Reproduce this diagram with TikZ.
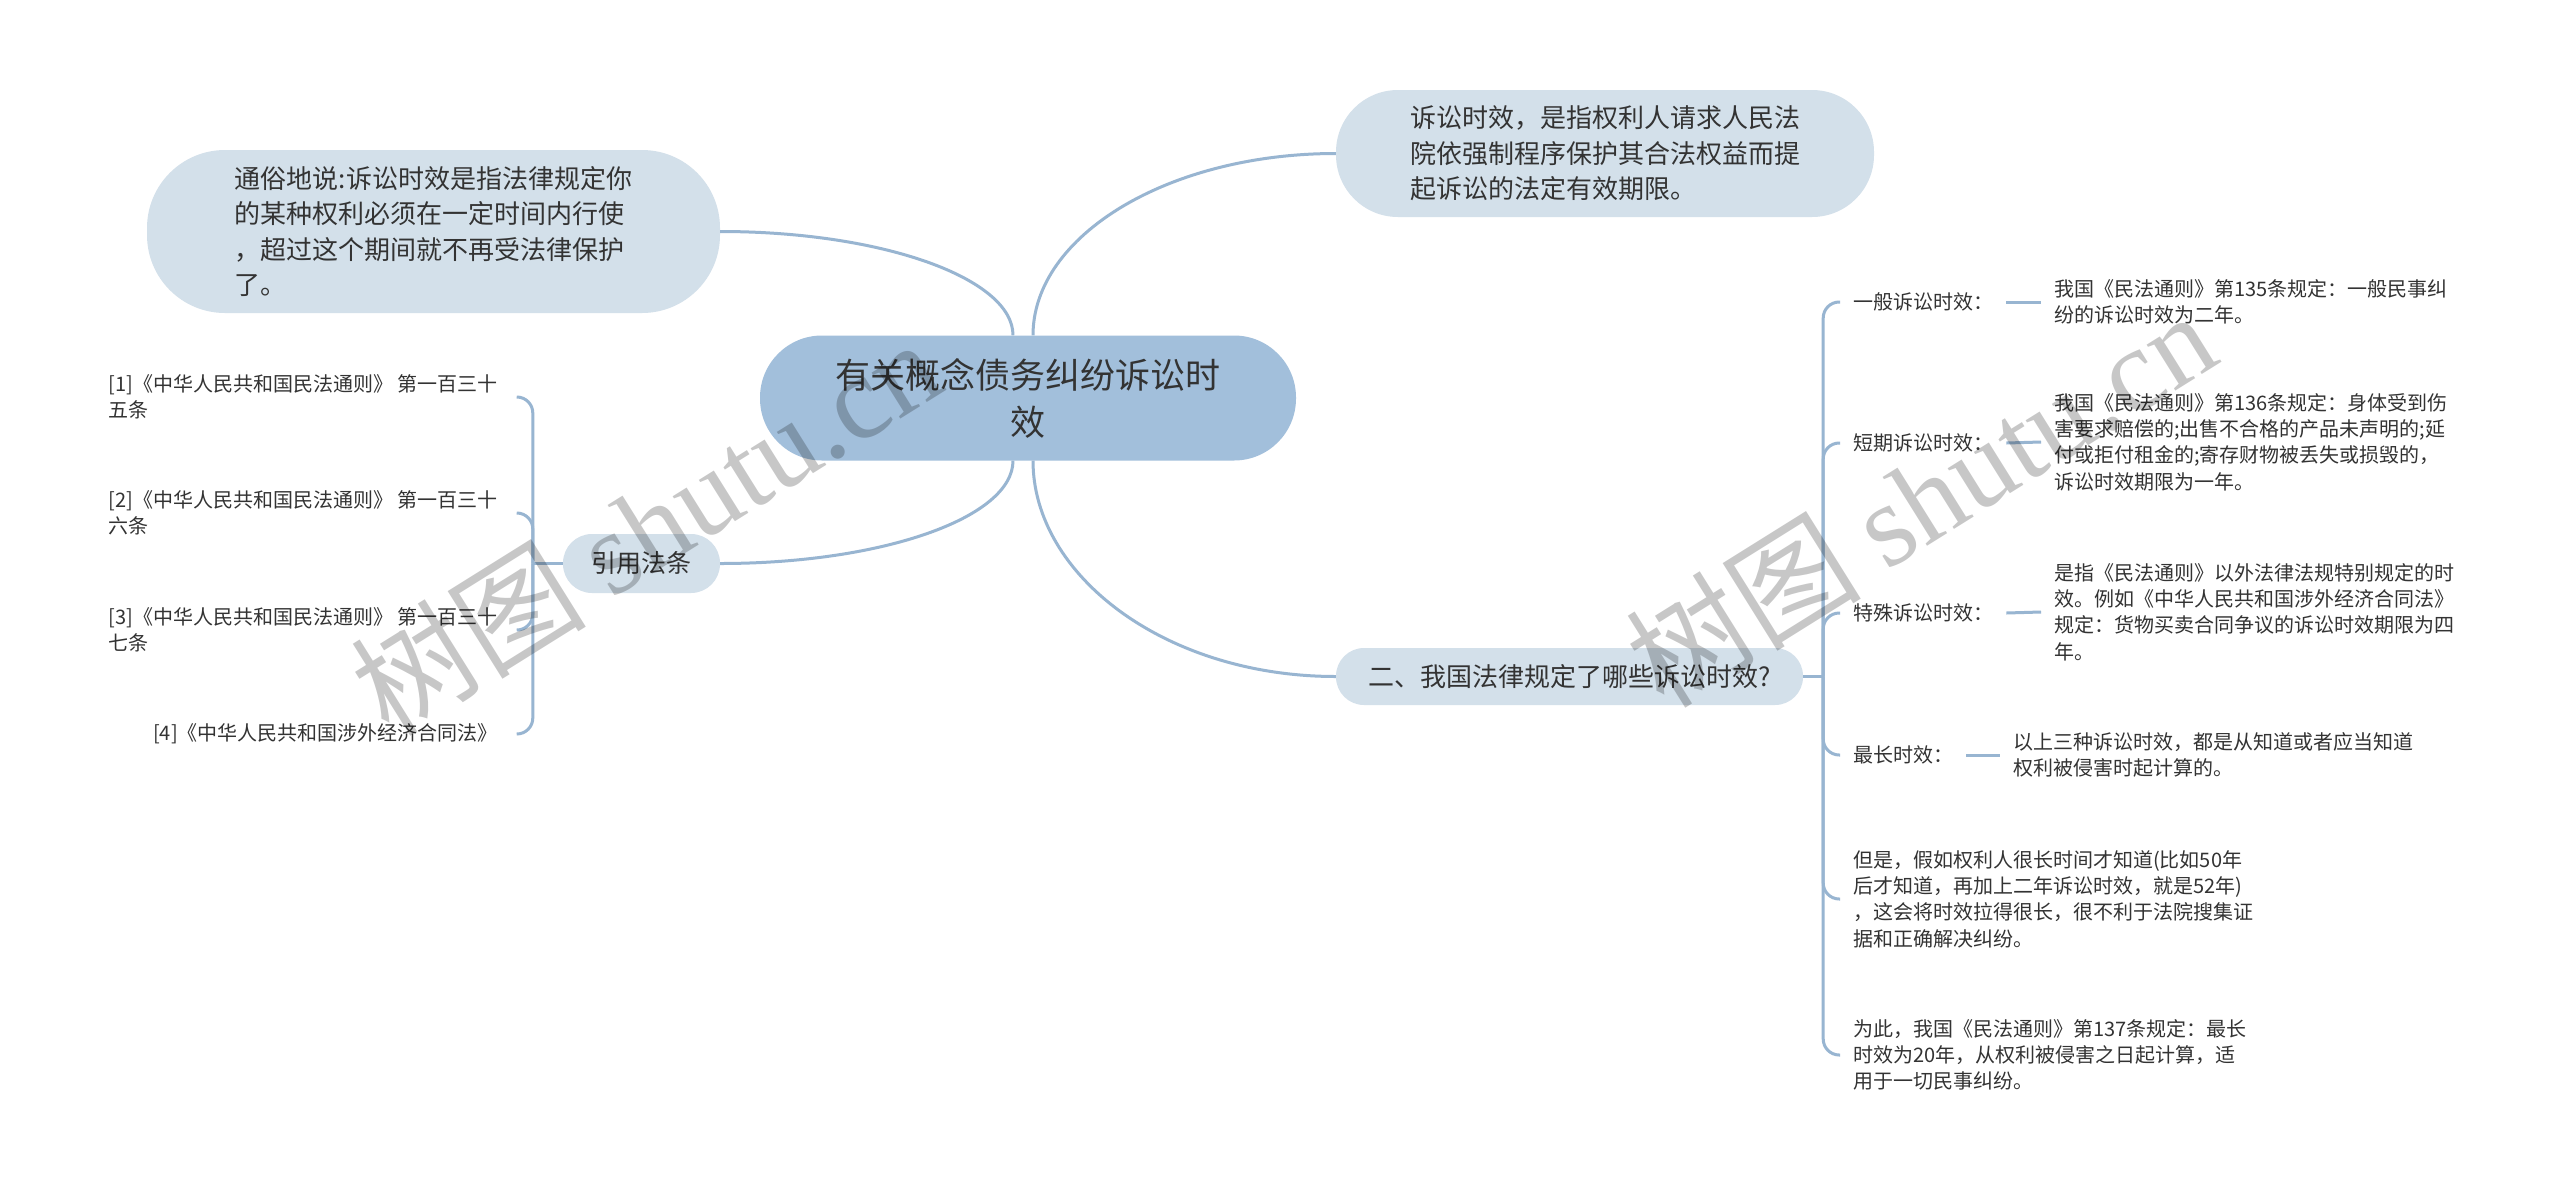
\documentclass[tikz,border=0pt]{standalone}
\usepackage{fontspec}
\setmainfont{Noto Sans CJK SC}
\newfontfamily\wmserif{Liberation Serif}
\usetikzlibrary{calc}
\definecolor{cfill}{HTML}{A2BFDB}
\definecolor{sfill}{HTML}{D3E0EA}
\definecolor{lnk}{HTML}{98B5D1}
\definecolor{txt}{HTML}{333333}
\begin{document}
\begin{tikzpicture}[x=1pt,y=-1pt,
  conn/.style={draw=lnk, line width=3pt},
  mainnode/.style={fill=cfill, rounded corners=62pt, minimum width=536pt, minimum height=125pt,
    align=center, text=txt, font=\fontsize{35}{47}\selectfont, inner sep=0pt},
  subnode/.style={fill=sfill, align=left, text=txt, inner sep=0pt},
  bigtext/.style={font=\fontsize{26}{35.5}\selectfont},
  leaf/.style={text=txt, align=left, font=\fontsize{20}{26.3}\selectfont, inner xsep=13pt, inner ysep=2pt},
  refleaf/.style={leaf, inner xsep=19pt, anchor=east},
  wm/.style={text=black, text opacity=0.22, font=\fontsize{118}{118}\selectfont, inner sep=0pt}
]
\fill[white] (0,0) rectangle (2560,1192);
\useasboundingbox (0,0) rectangle (2560,1192);

% main and secondary nodes
\node[mainnode] (c) at (1028,398) {有关概念债务纠纷诉讼时\\效};
\node[subnode, bigtext, minimum width=573pt, minimum height=163pt, rounded corners=78pt] (tl) at (433.5,231.5)
  {通俗地说:诉讼时效是指法律规定你\\的某种权利必须在一定时间内行使\\，超过这个期间就不再受法律保护\\了。};
\node[subnode, bigtext, minimum width=538pt, minimum height=127pt, rounded corners=62pt] (tr) at (1605,153.5)
  {诉讼时效，是指权利人请求人民法\\院依强制程序保护其合法权益而提\\起诉讼的法定有效期限。};
\node[subnode, font=\fontsize{25}{30}\selectfont, minimum width=157pt, minimum height=59pt, rounded corners=29pt, align=center] (yl) at (641.5,563.5) {引用法条};
\node[subnode, bigtext, minimum width=467pt, minimum height=57pt, rounded corners=28pt, align=center] (er) at (1569.5,676.5) {二、我国法律规定了哪些诉讼时效?};

% connectors from the centre
\draw[conn] ([xshift=-15pt]c.north) .. controls +(0,-57) and +(162,0) .. (tl.east);
\draw[conn] ([xshift=5pt]c.north) .. controls +(0,-100) and +(-167,0) .. (tr.west);
\draw[conn] ([xshift=-15pt]c.south) .. controls +(0,57) and +(162,0) .. (yl.east);
\draw[conn] ([xshift=5pt]c.south) .. controls +(0,115) and +(-170,0) .. (er.west);

% left references
\node[refleaf] (r1) at (517,397) {[1]《中华人民共和国民法通则》 第一百三十\\五条};
\node[refleaf] (r2) at (517,513) {[2]《中华人民共和国民法通则》 第一百三十\\六条};
\node[refleaf] (r3) at (517,630) {[3]《中华人民共和国民法通则》 第一百三十\\七条};
\node[refleaf] (r4) at (517,734) {[4]《中华人民共和国涉外经济合同法》};
\coordinate (jl) at ([xshift=-30pt]yl.west);
\draw[conn] (yl.west) -- (jl);
\foreach \n in {r1,r2,r3,r4} \draw[conn, rounded corners=16pt] (jl) |- (\n.east);

% right side
\coordinate (jr) at ([xshift=20pt]er.east);
\draw[conn] (er.east) -- (jr);
\node[leaf, anchor=west] (l1) at (1840,302) {一般诉讼时效：};
\node[leaf, anchor=west] (d1) at (2041,302) {我国《民法通则》第135条规定：一般民事纠\\纷的诉讼时效为二年。};
\node[leaf, anchor=west] (l2) at (1840,443) {短期诉讼时效：};
\node[leaf, anchor=west] (d2) at (2041,442) {我国《民法通则》第136条规定：身体受到伤\\害要求赔偿的;出售不合格的产品未声明的;延\\付或拒付租金的;寄存财物被丢失或损毁的，\\诉讼时效期限为一年。};
\node[leaf, anchor=west] (l3) at (1840,613) {特殊诉讼时效：};
\node[leaf, anchor=west] (d3) at (2041,612) {是指《民法通则》以外法律法规特别规定的时\\效。例如《中华人民共和国涉外经济合同法》\\规定：货物买卖合同争议的诉讼时效期限为四\\年。};
\node[leaf, anchor=west] (l4) at (1840,755) {最长时效：};
\node[leaf, anchor=west] (d4) at (2000,755) {以上三种诉讼时效，都是从知道或者应当知道\\权利被侵害时起计算的。};
\node[leaf, anchor=west] (p5) at (1840,899) {但是，假如权利人很长时间才知道(比如50年\\后才知道，再加上二年诉讼时效，就是52年)\\，这会将时效拉得很长，很不利于法院搜集证\\据和正确解决纠纷。};
\node[leaf, anchor=west] (p6) at (1840,1055) {为此，我国《民法通则》第137条规定：最长\\时效为20年，从权利被侵害之日起计算，适\\用于一切民事纠纷。};
\foreach \n in {l1,l2,l3,l4,p5,p6} \draw[conn, rounded corners=16pt] (jr) |- (\n.west);
\draw[conn] (l1.east) -- (d1.west);
\draw[conn] (l2.east) -- (d2.west);
\draw[conn] (l3.east) -- (d3.west);
\draw[conn] (l4.east) -- (d4.west);

% watermarks
\node[wm, rotate=32] (w1) at (645,526) {树图 {\wmserif shutu.cn}};
\node[wm, rotate=32] (w2) at (1920,498) {树图 {\wmserif shutu.cn}};
\end{tikzpicture}
\end{document}
